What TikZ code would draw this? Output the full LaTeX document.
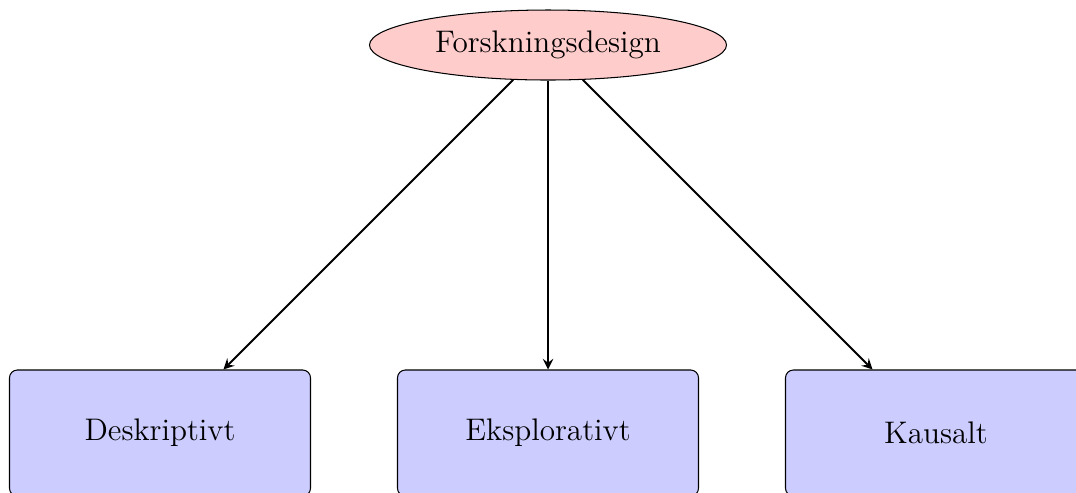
\documentclass[tikz,border=0pt]{standalone}
\usetikzlibrary{shapes.geometric}
\begin{document}
\begin{tikzpicture}[x=0.3846pt, y=-0.3846pt, >=stealth,
  rootnode/.style={ellipse, draw, fill=red!20, font=\large,
    minimum width=357*0.3846pt, minimum height=70*0.3846pt, inner sep=0pt},
  typebox/.style={rectangle, rounded corners=3pt, draw, fill=blue!20, font=\large,
    minimum width=301*0.3846pt, minimum height=126*0.3846pt},
  link/.style={->, thick}]
  \clip (0,0) rectangle (1076,492);
  \node[rootnode] (root) at (548,45) {Forskningsdesign};
  \node[typebox] (desc) at (160,433) {Deskriptivt};
  \node[typebox] (expl) at (548,433) {Eksplorativt};
  \node[typebox] (caus) at (936,433) {Kausalt};
  \draw[link] (root) -- (desc);
  \draw[link] (root) -- (expl);
  \draw[link] (root) -- (caus);
\end{tikzpicture}
\end{document}
